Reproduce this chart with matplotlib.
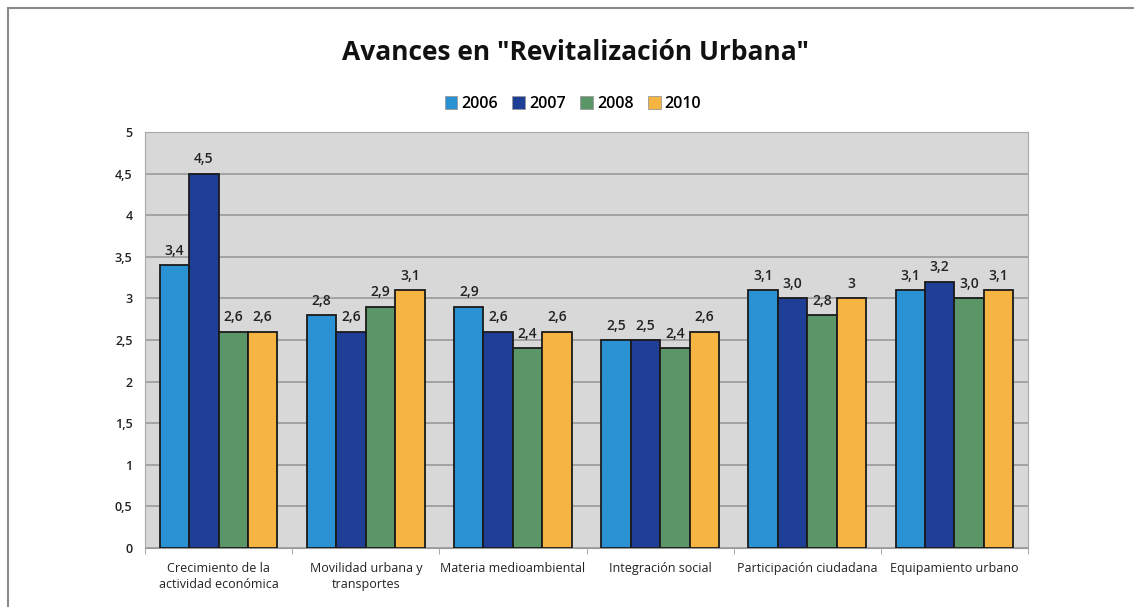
import numpy as np
import matplotlib
matplotlib.use("Agg")
import matplotlib.pyplot as plt
from matplotlib.lines import Line2D
from matplotlib.patches import Patch

plt.rcParams['font.family'] = ['Open Sans', 'DejaVu Sans']

categories = ["Crecimiento de la\nactividad económica", "Movilidad urbana y\ntransportes",
              "Materia medioambiental", "Integración social",
              "Participación ciudadana", "Equipamiento urbano"]
years = ["2006", "2007", "2008", "2010"]
v2006 = [3.4, 2.8, 2.9, 2.5, 3.1, 3.1]
v2007 = [4.5, 2.6, 2.6, 2.5, 3.0, 3.2]
v2008 = [2.6, 2.9, 2.4, 2.4, 2.8, 3.0]
v2010 = [2.6, 3.1, 2.6, 2.6, 3.0, 3.1]
lab2006 = ["3,4", "2,8", "2,9", "2,5", "3,1", "3,1"]
lab2007 = ["4,5", "2,6", "2,6", "2,5", "3,0", "3,2"]
lab2008 = ["2,6", "2,9", "2,4", "2,4", "2,8", "3,0"]
lab2010 = ["2,6", "3,1", "2,6", "2,6", "3", "3,1"]
yticks = [0, 0.5, 1, 1.5, 2, 2.5, 3, 3.5, 4, 4.5, 5]
yticklabels = ["0", "0,5", "1", "1,5", "2", "2,5", "3", "3,5", "4", "4,5", "5"]

colors = ["#2a92d3", "#1f3f97", "#5b9669", "#f6b443"]
series = [v2006, v2007, v2008, v2010]
labels = [lab2006, lab2007, lab2008, lab2010]

fig = plt.figure(figsize=(11.34, 6.07), dpi=100)
ax = fig.add_axes([145 / 1134, 1 - 548 / 607, 883 / 1134, 416 / 607])
ax.set_facecolor("#d8d8d8")

x = np.arange(len(categories))
w = 0.2
for i, (vals, labs, c) in enumerate(zip(series, labels, colors)):
    pos = x - 0.3 + i * w
    ax.bar(pos, vals, w, color=c, edgecolor="#1a1a1a", linewidth=1.3, zorder=3)
    for p, v, t in zip(pos, vals, labs):
        ax.text(p, v + 0.09, t, ha="center", va="bottom", fontsize=10,
                fontweight="semibold", color="#222222", zorder=4)

ax.set_xlim(-0.5, len(categories) - 0.5)
ax.set_ylim(0, 5)
ax.set_yticks(yticks)
ax.set_yticklabels(yticklabels, fontsize=9, fontweight="semibold", color="#222222")
ax.yaxis.grid(True, color="#9a9a9a", linewidth=1.2, zorder=0)
ax.set_axisbelow(True)
ax.tick_params(axis="y", length=0, pad=9)
ax.set_xticks(x)
ax.set_xticklabels(categories, fontsize=9, color="#222222", linespacing=1.3)
ax.tick_params(axis="x", length=0, pad=10)
ax.set_xticks(np.arange(-0.5, len(categories)), minor=True)
ax.tick_params(axis="x", which="minor", length=4, color="#999999")
for s in ["top", "right", "left"]:
    ax.spines[s].set_color("#a8a8a8")
ax.spines["bottom"].set_color("#999999")

fig.text(575 / 1134, 1 - 52 / 607, 'Avances en "Revitalización Urbana"', ha="center",
         va="center", fontsize=19, fontweight="bold", color="#111111")
handles = [Patch(facecolor=c, edgecolor="#9a9a9a", linewidth=0.6) for c in colors]
fig.legend(handles, years, loc="center", bbox_to_anchor=(573 / 1134, 1 - 104 / 607),
           ncol=4, frameon=False, handlelength=0.8, handleheight=0.8, handletextpad=0.25,
           columnspacing=0.9, prop={"weight": "semibold", "size": 11.5})

# outer frame (cropped at right and bottom)
fig.add_artist(Line2D([8 / 1134, 1.0], [1 - 8 / 607] * 2, color="#8a8a8a", lw=1.5,
                      transform=fig.transFigure))
fig.add_artist(Line2D([8 / 1134] * 2, [0, 1 - 8 / 607], color="#8a8a8a", lw=1.5,
                      transform=fig.transFigure))

fig.savefig("out.png", dpi=100, facecolor="white")
